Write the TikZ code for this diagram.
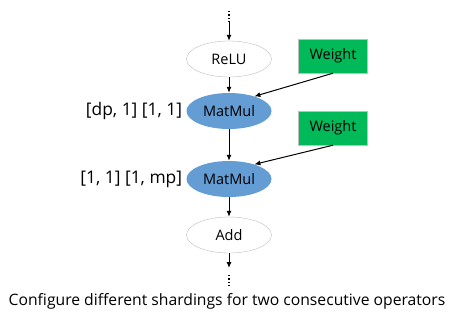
\documentclass[tikz,border=0pt]{standalone}
\usepackage{fontspec}
\setmainfont{Open Sans}
\usetikzlibrary{positioning,shapes.geometric,arrows.meta}

\begin{document}
\begin{tikzpicture}[x=1pt, y=-1pt, >={Latex[length=6pt,width=5pt]}]
    \tikzstyle{op}=[ellipse, draw=black!25, fill=white, inner sep=0pt, minimum width=85pt, minimum height=36pt, font=\fontsize{14.5}{16}\selectfont]
    \tikzstyle{matmul}=[op, draw=none, fill={rgb,255:red,100;green,156;blue,212}]
    \tikzstyle{weight}=[rectangle, draw=black!25, fill={rgb,255:red,0;green,186;blue,90}, inner sep=0pt, minimum width=69pt, minimum height=34pt, font=\fontsize{14.5}{16}\selectfont]
    \tikzstyle{strategy}=[anchor=east, inner sep=0pt, font=\fontsize{17.4}{19}\selectfont]
    \tikzstyle{flow}=[->, line width=1pt]
    \tikzstyle{more}=[line width=1.3pt, dash pattern=on 1.3pt off 2pt]

    \useasboundingbox (0,0) rectangle (454,324);

    \coordinate (topdots) at (229,11);
    \coordinate (topin) at (229,21);
    \node[op] (relu) at (229,59) {ReLU};
    \node[matmul] (mm1) at (229,111) {MatMul};
    \node[matmul] (mm2) at (229,179) {MatMul};
    \node[op] (add) at (229,235) {Add};
    \coordinate (botout) at (229,268);
    \coordinate (botdots) at (229,287);

    \node[weight] (w1) at (333,56) {Weight};
    \node[weight] (w2) at (333,128) {Weight};

    \node[strategy, left=4pt of mm1] (s1) {[dp, 1] [1, 1]};
    \node[strategy, left=4pt of mm2] (s2) {[1, 1] [1, mp]};

    \draw[more] (topdots) -- (topin);
    \draw[flow] (topin) -- (relu);
    \draw[flow] (relu) -- (mm1);
    \draw[flow] (mm1) -- (mm2);
    \draw[flow] (mm2) -- (add);
    \draw[flow] (add) -- (botout);
    \draw[more] ([yshift=-7pt]botout) -- (botdots);
    \draw[flow] (w1.south) -- (mm1.30);
    \draw[flow] (w2.south) -- (mm2.30);

    \node[font=\fontsize{15.7}{18}\selectfont] (caption) at (227,301) {Configure different shardings for two consecutive operators};
\end{tikzpicture}
\end{document}
